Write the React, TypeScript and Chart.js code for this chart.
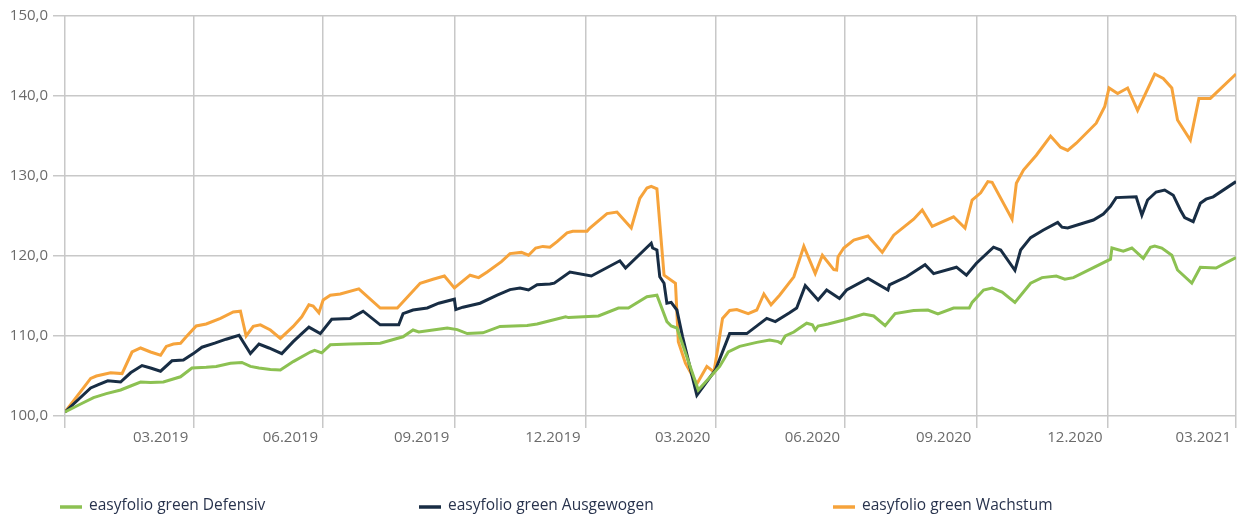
import React, { useEffect, useRef } from "react";
import { Chart, registerables } from "chart.js";

Chart.register(...registerables);

// Series names
const seriesNames = [
  "easyfolio green Defensiv",
  "easyfolio green Ausgewogen",
  "easyfolio green Wachstum",
];
const seriesColors = ["#8cc152", "#182d44", "#f6a33b"];

// X axis: days since 31.12.2018, ticks at quarter ends
const quarterTickDays = [0, 90, 181, 273, 365, 456, 547, 639, 731, 821];
const quarterTickLabels = ["", "03.2019", "06.2019", "09.2019", "12.2019", "03.2020", "06.2020", "09.2020", "12.2020", "03.2021"];

// Y axis ticks
const yTickValues = [100, 110, 120, 130, 140, 150];

// Defensiv
const defensivDays = [0, 11, 20, 29, 39, 46, 53, 60, 69, 81, 89, 99, 106, 116, 124, 130, 136, 144, 151, 160, 172, 175, 180, 186, 200, 221, 229, 237, 244, 248, 258, 268, 275, 282, 293, 305, 324, 331, 340, 351, 353, 374, 388, 395, 408, 415, 422, 425, 429, 444, 459, 465, 473, 485, 494, 500, 502, 505, 511, 515, 520, 524, 526, 528, 535, 546, 560, 567, 575, 582, 595, 605, 612, 623, 634, 636, 644, 650, 657, 666, 677, 685, 695, 701, 707, 733, 734, 742, 748, 756, 761, 764, 769, 776, 780, 790, 796, 807, 821];
const defensivValues = [100.5, 101.5, 102.3, 102.8, 103.25, 103.75, 104.25, 104.2, 104.25, 104.9, 106.0, 106.1, 106.2, 106.6, 106.7, 106.2, 106.0, 105.8, 105.75, 106.8, 108.0, 108.2, 107.9, 108.9, 109.0, 109.1, 109.5, 109.9, 110.75, 110.5, 110.75, 111.0, 110.8, 110.3, 110.4, 111.2, 111.3, 111.5, 111.9, 112.4, 112.3, 112.5, 113.5, 113.5, 114.9, 115.1, 111.8, 111.25, 111.0, 103.25, 106.2, 108.0, 108.7, 109.2, 109.5, 109.3, 109.1, 110.0, 110.5, 111.0, 111.6, 111.4, 110.75, 111.25, 111.5, 112.0, 112.75, 112.5, 111.3, 112.8, 113.2, 113.25, 112.75, 113.5, 113.5, 114.2, 115.75, 116.0, 115.5, 114.2, 116.6, 117.3, 117.5, 117.1, 117.3, 119.6, 121.0, 120.6, 121.0, 119.7, 121.1, 121.25, 121.0, 120.1, 118.25, 116.6, 118.6, 118.5, 119.8];

// Ausgewogen
const ausgewogenDays = [0, 18, 23, 30, 39, 46, 54, 60, 67, 75, 83, 90, 96, 105, 113, 122, 130, 136, 143, 152, 160, 166, 171, 179, 187, 200, 209, 221, 234, 237, 244, 254, 262, 273, 274, 279, 291, 303, 312, 319, 325, 331, 340, 343, 354, 369, 389, 393, 411, 412, 415, 417, 420, 422, 425, 429, 433, 443, 456, 466, 478, 492, 498, 508, 513, 519, 528, 534, 543, 548, 563, 577, 578, 590, 603, 609, 625, 632, 639, 651, 656, 666, 670, 677, 686, 696, 699, 703, 721, 728, 733, 737, 751, 755, 759, 765, 771, 777, 782, 785, 791, 796, 800, 805, 821];
const ausgewogenValues = [100.5, 103.5, 103.9, 104.4, 104.25, 105.4, 106.3, 106.0, 105.6, 106.9, 107.0, 107.8, 108.6, 109.1, 109.6, 110.1, 107.8, 109.0, 108.5, 107.8, 109.3, 110.3, 111.1, 110.3, 112.1, 112.2, 113.1, 111.4, 111.4, 112.8, 113.25, 113.5, 114.1, 114.6, 113.3, 113.6, 114.1, 115.1, 115.8, 116.0, 115.75, 116.4, 116.5, 116.6, 118.0, 117.5, 119.4, 118.5, 121.6, 121.0, 120.75, 117.4, 116.6, 114.1, 114.2, 113.25, 109.9, 102.6, 105.75, 110.3, 110.3, 112.2, 111.8, 112.9, 113.5, 116.3, 114.5, 115.75, 114.7, 115.75, 117.2, 115.75, 116.4, 117.4, 118.9, 117.8, 118.6, 117.6, 119.1, 121.1, 120.75, 118.2, 120.75, 122.3, 123.25, 124.2, 123.6, 123.5, 124.5, 125.25, 126.2, 127.3, 127.4, 125.1, 127.0, 128.0, 128.25, 127.6, 125.75, 124.8, 124.3, 126.6, 127.1, 127.4, 129.3];

// Wachstum
const wachstumDays = [0, 18, 22, 32, 40, 47, 53, 60, 67, 71, 76, 81, 85, 92, 99, 109, 118, 123, 127, 132, 137, 144, 151, 160, 166, 171, 174, 178, 181, 186, 193, 206, 221, 233, 249, 258, 266, 273, 284, 290, 296, 306, 312, 320, 325, 330, 335, 340, 345, 352, 356, 366, 368, 380, 387, 397, 403, 408, 411, 415, 420, 428, 430, 435, 443, 450, 455, 461, 466, 471, 479, 485, 490, 495, 501, 511, 518, 526, 531, 539, 541, 542, 546, 553, 563, 573, 581, 595, 601, 608, 623, 631, 636, 642, 647, 650, 664, 667, 672, 681, 691, 698, 703, 709, 723, 729, 732, 738, 745, 752, 764, 770, 776, 780, 789, 795, 803, 821];
const wachstumValues = [100.5, 104.7, 105.0, 105.4, 105.3, 108.0, 108.5, 108.0, 107.6, 108.7, 109.0, 109.1, 109.9, 111.25, 111.5, 112.2, 113.0, 113.1, 110.0, 111.2, 111.4, 110.75, 109.7, 111.2, 112.4, 113.9, 113.75, 112.9, 114.5, 115.1, 115.25, 115.9, 113.5, 113.5, 116.6, 117.1, 117.5, 116.0, 117.6, 117.3, 118.0, 119.3, 120.3, 120.45, 120.1, 121.0, 121.2, 121.1, 121.8, 122.9, 123.1, 123.1, 123.5, 125.3, 125.5, 123.5, 127.2, 128.5, 128.7, 128.4, 117.6, 116.6, 109.3, 106.6, 104.0, 106.2, 105.5, 112.2, 113.2, 113.3, 112.8, 113.25, 115.25, 113.9, 115.1, 117.4, 121.2, 117.8, 120.1, 118.3, 118.25, 119.9, 121.0, 122.0, 122.5, 120.45, 122.6, 124.6, 125.75, 123.7, 124.9, 123.5, 127.0, 127.9, 129.3, 129.2, 124.6, 129.1, 130.75, 132.6, 135.0, 133.6, 133.2, 134.1, 136.6, 138.7, 141.0, 140.3, 141.0, 138.2, 142.75, 142.2, 141.0, 137.0, 134.5, 139.7, 139.7, 142.75];

const toPoints = (xs: number[], ys: number[]) => xs.map((x, i) => ({ x, y: ys[i] }));

const legendPositions = [60, 419, 833];

const bottomLegend = {
  id: "bottomLegend",
  afterDraw(chart: any) {
    const ctx = chart.ctx;
    chart.data.datasets.forEach((ds: any, i: number) => {
      const x = legendPositions[i];
      ctx.save();
      ctx.strokeStyle = ds.borderColor;
      ctx.lineWidth = 3.5;
      ctx.beginPath();
      ctx.moveTo(x, 507);
      ctx.lineTo(x + 22, 507);
      ctx.stroke();
      ctx.font = "15.5px 'Open Sans'";
      ctx.fillStyle = "#28334d";
      ctx.textBaseline = "alphabetic";
      ctx.textAlign = "left";
      ctx.fillText(ds.label, x + 29, 510);
      ctx.restore();
    });
  },
};

export default function App() {
  const canvasRef = useRef<HTMLCanvasElement | null>(null);

  useEffect(() => {
    if (!canvasRef.current) return;
    const gridColor = "#c8c8c8";
    const chart = new Chart(canvasRef.current, {
      type: "line",
      data: {
        datasets: [
          { label: seriesNames[0], data: toPoints(defensivDays, defensivValues), borderColor: seriesColors[0], backgroundColor: seriesColors[0], borderWidth: 3, pointRadius: 0, tension: 0, fill: false },
          { label: seriesNames[1], data: toPoints(ausgewogenDays, ausgewogenValues), borderColor: seriesColors[1], backgroundColor: seriesColors[1], borderWidth: 3, pointRadius: 0, tension: 0, fill: false },
          { label: seriesNames[2], data: toPoints(wachstumDays, wachstumValues), borderColor: seriesColors[2], backgroundColor: seriesColors[2], borderWidth: 3, pointRadius: 0, tension: 0, fill: false },
        ],
      },
      options: {
        animation: false,
        responsive: true,
        maintainAspectRatio: false,
        layout: { padding: { left: 0, right: 6, top: 16, bottom: 0 } },
        plugins: { legend: { display: false }, tooltip: { enabled: false } },
        scales: {
          x: {
            type: "linear",
            min: quarterTickDays[0],
            max: quarterTickDays[quarterTickDays.length - 1],
            afterBuildTicks: (scale: any) => {
              scale.ticks = quarterTickDays.map((v) => ({ value: v }));
            },
            afterFit: (scale: any) => {
              scale.height = 102;
            },
            border: { display: false },
            grid: { color: gridColor, lineWidth: 1.5, drawTicks: true, tickLength: 12, tickColor: gridColor },
            ticks: {
              autoSkip: false,
              maxRotation: 0,
              align: "end",
              labelOffset: -5,
              padding: 1,
              color: "#6b6b6b",
              font: { family: "'Open Sans'", size: 15 },
              callback: (value: any) => {
                const idx = quarterTickDays.indexOf(Number(value));
                return idx >= 0 ? quarterTickLabels[idx] : "";
              },
            },
          },
          y: {
            min: yTickValues[0],
            max: yTickValues[yTickValues.length - 1],
            afterBuildTicks: (scale: any) => {
              scale.ticks = yTickValues.map((v) => ({ value: v }));
            },
            afterFit: (scale: any) => {
              scale.width = 65;
            },
            border: { display: false },
            grid: { color: gridColor, lineWidth: 1.5, drawTicks: true, tickLength: 12, tickColor: gridColor },
            ticks: {
              padding: 5,
              color: "#6b6b6b",
              font: { family: "'Open Sans'", size: 15 },
              callback: (value: any) => Number(value).toFixed(1).replace(".", ","),
            },
          },
        },
      },
      plugins: [bottomLegend],
    } as any);
    return () => chart.destroy();
  }, []);

  return (
    <div style={{ position: "absolute", left: 0, top: 0, width: 1242, height: 518, background: "#ffffff" }}>
      <canvas ref={canvasRef} />
    </div>
  );
}
